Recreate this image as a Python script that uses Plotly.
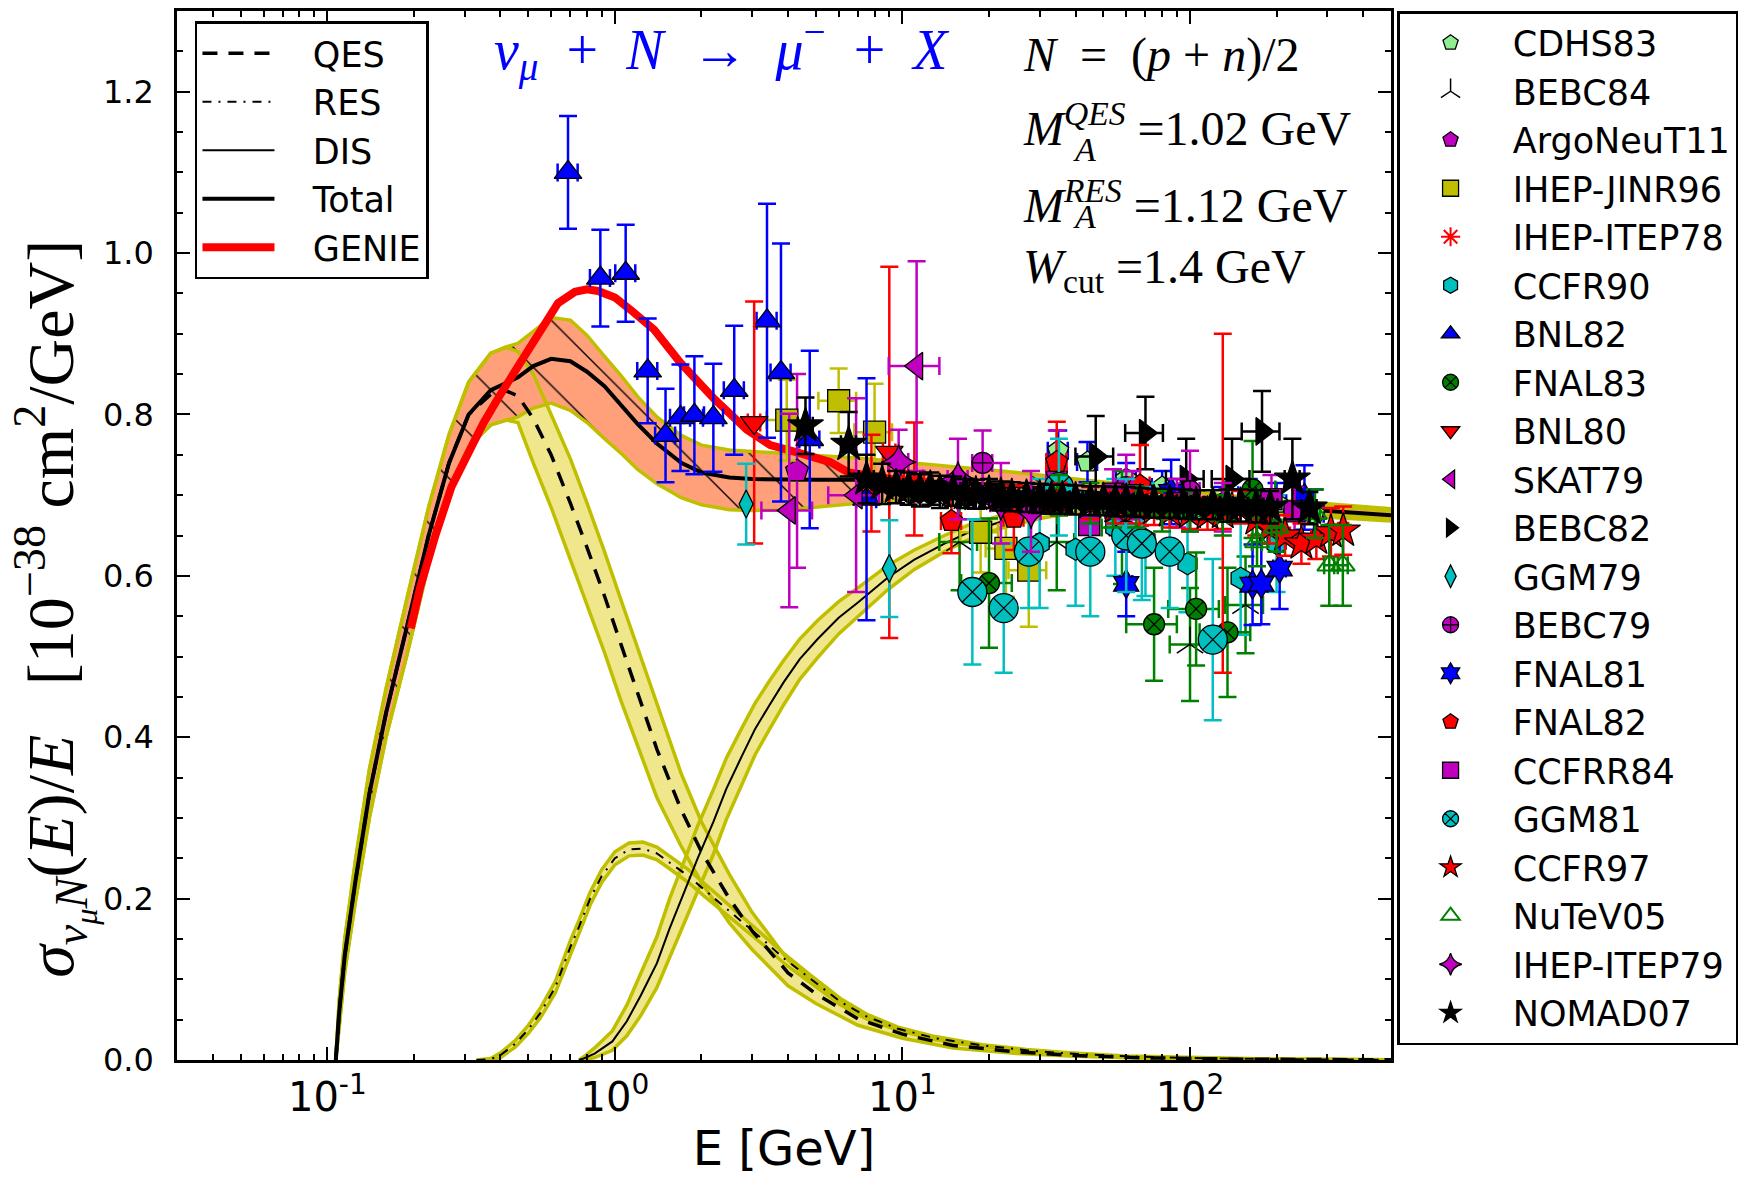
import math
import plotly.graph_objects as go

# ---------------- model curves ----------------
E_qes = [0.107, 0.11, 0.115, 0.125, 0.14, 0.16, 0.19, 0.225, 0.265, 0.31, 0.37, 0.42, 0.46, 0.52, 0.6,
         0.7, 0.8, 0.92, 1.05, 1.2, 1.4, 1.7, 2.0, 2.5, 3.0, 4.0, 5.0, 7.0, 10, 15, 25, 40, 70, 150, 500]
qes_c = [0, 0.06, 0.13, 0.22, 0.33, 0.43, 0.54, 0.65, 0.74, 0.80, 0.825, 0.829, 0.823, 0.795, 0.75,
         0.69, 0.635, 0.575, 0.515, 0.455, 0.385, 0.31, 0.258, 0.20, 0.16, 0.108, 0.082, 0.051, 0.032,
         0.018, 0.010, 0.0055, 0.0027, 0.0010, 0.0002]
qes_hi = [0, 0.075, 0.15, 0.245, 0.36, 0.46, 0.575, 0.685, 0.775, 0.84, 0.876, 0.883, 0.878, 0.85, 0.80,
          0.745, 0.69, 0.63, 0.57, 0.51, 0.44, 0.355, 0.295, 0.23, 0.183, 0.124, 0.094, 0.059, 0.037,
          0.021, 0.012, 0.0066, 0.0032, 0.0012, 0.0003]
qes_lo = [0, 0.045, 0.11, 0.195, 0.30, 0.40, 0.505, 0.615, 0.705, 0.76, 0.787, 0.793, 0.79, 0.74, 0.685,
          0.62, 0.565, 0.505, 0.445, 0.39, 0.325, 0.265, 0.22, 0.17, 0.137, 0.092, 0.070, 0.043, 0.027,
          0.015, 0.008, 0.0045, 0.0022, 0.0008, 0.0001]

E_tot = [0.107, 0.11, 0.115, 0.125, 0.14, 0.16, 0.19, 0.225, 0.265, 0.31, 0.37, 0.42, 0.46, 0.52, 0.6,
         0.7, 0.8, 0.92, 1.05, 1.2, 1.4, 1.7, 2.0, 2.5, 3.0, 4.0, 5.0, 7.0, 10, 15, 25, 40, 70, 150, 500]
tot_c = [0, 0.06, 0.13, 0.22, 0.33, 0.43, 0.54, 0.65, 0.74, 0.80, 0.83, 0.84, 0.846, 0.86, 0.869,
         0.866, 0.853, 0.835, 0.812, 0.788, 0.764, 0.74, 0.728, 0.722, 0.72, 0.719, 0.719, 0.719, 0.718,
         0.716, 0.711, 0.705, 0.698, 0.688, 0.675]
tot_hi = [0, 0.075, 0.15, 0.245, 0.36, 0.46, 0.575, 0.685, 0.775, 0.84, 0.876, 0.884, 0.888, 0.903, 0.92,
          0.917, 0.898, 0.872, 0.848, 0.822, 0.797, 0.774, 0.762, 0.756, 0.754, 0.751, 0.749, 0.746, 0.741,
          0.735, 0.728, 0.72, 0.711, 0.698, 0.683]
tot_lo = [0, 0.045, 0.11, 0.195, 0.30, 0.40, 0.505, 0.615, 0.705, 0.76, 0.787, 0.793, 0.797, 0.808, 0.814,
          0.805, 0.79, 0.77, 0.752, 0.732, 0.714, 0.697, 0.688, 0.682, 0.681, 0.682, 0.685, 0.69, 0.695,
          0.697, 0.696, 0.693, 0.687, 0.679, 0.668]

E_res = [0.33, 0.37, 0.40, 0.45, 0.5, 0.55, 0.62, 0.7, 0.75, 0.82, 0.9, 1.0, 1.12, 1.25, 1.4, 1.55, 1.8,
         2.03, 2.4, 2.8, 3.3, 3.9, 4.8, 6.1, 7.5, 9.6, 13, 19, 27, 38, 60, 100, 200, 500]
res_c = [0.0, 0.001, 0.006, 0.02, 0.038, 0.058, 0.09, 0.14, 0.165, 0.2, 0.228, 0.25, 0.261, 0.262, 0.256,
         0.245, 0.228, 0.212, 0.19, 0.17, 0.148, 0.125, 0.10, 0.072, 0.054, 0.039, 0.027, 0.018, 0.012,
         0.008, 0.0045, 0.0025, 0.001, 0.0003]
res_hi = [0.0, 0.002, 0.009, 0.024, 0.043, 0.064, 0.097, 0.148, 0.173, 0.208, 0.236, 0.258, 0.269, 0.27,
          0.264, 0.253, 0.236, 0.22, 0.197, 0.177, 0.154, 0.131, 0.105, 0.076, 0.057, 0.041, 0.029, 0.019,
          0.013, 0.009, 0.005, 0.003, 0.0012, 0.0004]
res_lo = [0.0, 0.0, 0.003, 0.016, 0.033, 0.052, 0.083, 0.132, 0.157, 0.192, 0.22, 0.242, 0.253, 0.254,
          0.248, 0.237, 0.22, 0.204, 0.183, 0.163, 0.142, 0.119, 0.095, 0.068, 0.051, 0.037, 0.025, 0.017,
          0.011, 0.007, 0.004, 0.002, 0.0008, 0.0002]

E_dis = [0.75, 0.78, 0.85, 0.98, 1.1, 1.23, 1.4, 1.55, 1.75, 1.94, 2.2, 2.44, 2.75, 3.07, 3.45, 3.86, 4.4,
         5.08, 6.0, 7.0, 8.9, 11, 14, 17, 22, 30, 45, 70, 100, 200, 500]
dis_c = [0.0, 0.002, 0.008, 0.023, 0.048, 0.08, 0.12, 0.163, 0.21, 0.25, 0.295, 0.336, 0.375, 0.41, 0.44,
         0.468, 0.497, 0.522, 0.548, 0.567, 0.598, 0.62, 0.64, 0.654, 0.667, 0.678, 0.688, 0.692, 0.692,
         0.686, 0.675]
dis_hi = [0.0, 0.004, 0.015, 0.036, 0.068, 0.108, 0.153, 0.20, 0.25, 0.29, 0.335, 0.374, 0.41, 0.442, 0.47,
          0.495, 0.522, 0.545, 0.568, 0.585, 0.613, 0.632, 0.65, 0.663, 0.675, 0.685, 0.694, 0.697, 0.697,
          0.691, 0.68]
dis_lo = [0.0, 0.0, 0.003, 0.012, 0.03, 0.055, 0.09, 0.127, 0.17, 0.21, 0.255, 0.298, 0.34, 0.378, 0.41,
          0.44, 0.472, 0.499, 0.528, 0.549, 0.583, 0.608, 0.63, 0.645, 0.659, 0.671, 0.682, 0.687, 0.687,
          0.681, 0.67]

E_genie = [0.195, 0.21, 0.238, 0.27, 0.31, 0.35, 0.40, 0.45, 0.50, 0.56, 0.634, 0.726, 0.80, 0.873, 1.0,
           1.13, 1.37, 1.69, 2.22, 2.88, 3.47, 4.3, 5.6, 6.5, 8.0, 10]
genie = [0.535, 0.585, 0.651, 0.71, 0.753, 0.79, 0.825, 0.855, 0.878, 0.91, 0.938, 0.952, 0.955, 0.953,
         0.945, 0.93, 0.905, 0.864, 0.819, 0.781, 0.762, 0.753, 0.741, 0.728, 0.722, 0.718]

# ---------------- experimental data (E [GeV], sigma/E, error) ----------------
CDHS83_E = [34.8, 44, 60, 80, 100, 130, 160, 200, 270]
CDHS83_v = [0.755, 0.741, 0.72, 0.71, 0.70, 0.69, 0.70, 0.69, 0.677]
CDHS83_d = [0.025, 0.025, 0.02, 0.02, 0.02, 0.02, 0.02, 0.025, 0.03]

BEBC84_E = [15.8, 34.4, 58, 100, 156]
BEBC84_v = [0.642, 0.642, 0.66, 0.515, 0.564]
BEBC84_d = [0.06, 0.06, 0.07, 0.07, 0.06]

ArgoNeuT11_E = [4.3]
ArgoNeuT11_v = [0.73]
ArgoNeuT11_d = [0.12]

IHEPJINR96_E = [3.96, 6.0, 8.0, 18.7, 22.9, 27.5]
IHEPJINR96_v = [0.793, 0.817, 0.778, 0.654, 0.634, 0.607]
IHEPJINR96_d = [0.05, 0.04, 0.06, 0.05, 0.06, 0.07]

IHEPITEP78_E = [7.8, 11.0]
IHEPITEP78_v = [0.715, 0.72]
IHEPITEP78_d = [0.06, 0.07]

CCFR90_E = [30, 40, 55, 70, 98, 150, 200]
CCFR90_v = [0.64, 0.633, 0.66, 0.645, 0.615, 0.597, 0.64]
CCFR90_d = [0.08, 0.07, 0.06, 0.07, 0.06, 0.07, 0.06]

BNL82_E = [0.687, 0.89, 1.09, 1.3, 1.5, 1.69, 1.89, 2.2, 2.6, 3.38, 3.78, 4.76, 7.5]
BNL82_v = [1.10, 0.969, 0.975, 0.854, 0.774, 0.796, 0.799, 0.796, 0.83, 0.916, 0.852, 0.769, 0.695]
BNL82_d = [0.07, 0.06, 0.06, 0.065, 0.058, 0.066, 0.073, 0.067, 0.08, 0.145, 0.16, 0.11, 0.15]

FNAL83_E = [20, 75, 105, 135, 165]
FNAL83_v = [0.591, 0.54, 0.559, 0.53, 0.707]
FNAL83_d = [0.08, 0.07, 0.07, 0.08, 0.06]

BNL80_E = [3.05, 9.0]
BNL80_v = [0.79, 0.753]
BNL80_d = [0.15, 0.23]

SKAT79_E = [4.04, 6.9, 11.2]
SKAT79_v = [0.681, 0.70, 0.86]
SKAT79_d = [0.12, 0.12, 0.13]

BEBC82_E = [47, 70, 97, 140, 178]
BEBC82_v = [0.748, 0.777, 0.72, 0.72, 0.779]
BEBC82_d = [0.05, 0.045, 0.05, 0.05, 0.05]

GGM79_E = [2.86, 9.0]
GGM79_v = [0.689, 0.609]
GGM79_d = [0.05, 0.06]

BEBC79_E = [19, 34.4, 60, 100]
BEBC79_v = [0.74, 0.73, 0.71, 0.705]
BEBC79_d = [0.04, 0.05, 0.04, 0.05]

FNAL81_E = [60, 86, 165, 177, 205, 250]
FNAL81_v = [0.59, 0.704, 0.589, 0.59, 0.609, 0.697]
FNAL81_d = [0.04, 0.04, 0.05, 0.05, 0.05, 0.04]

FNAL82_E = [14.8, 24.4, 34.4, 67, 130]
FNAL82_v = [0.668, 0.672, 0.741, 0.712, 0.69]
FNAL82_d = [0.04, 0.04, 0.05, 0.05, 0.21]

CCFRR84_E = [44.6, 54, 63, 90, 130, 192, 231]
CCFRR84_v = [0.663, 0.702, 0.70, 0.69, 0.685, 0.695, 0.68]
CCFRR84_d = [0.03, 0.03, 0.03, 0.03, 0.03, 0.03, 0.03]

GGM81_E = [17.5, 22.5, 27.5, 35, 45, 60, 68, 85, 120]
GGM81_v = [0.58, 0.56, 0.63, 0.71, 0.63, 0.65, 0.64, 0.63, 0.521]
GGM81_d = [0.09, 0.08, 0.07, 0.06, 0.08, 0.07, 0.07, 0.07, 0.10]

CCFR97_E = [35, 45, 55, 65, 75, 85, 100, 115, 130, 149, 170, 189, 214, 244, 275, 309, 341]
CCFR97_v = [0.695, 0.69, 0.685, 0.685, 0.683, 0.68, 0.678, 0.677, 0.678, 0.685, 0.67, 0.66, 0.65, 0.64,
            0.646, 0.654, 0.656]
CCFR97_d = [0.02, 0.02, 0.02, 0.02, 0.02, 0.02, 0.02, 0.02, 0.02, 0.02, 0.02, 0.02, 0.025, 0.025, 0.025,
            0.03, 0.03]

NuTeV05_E = [35, 45, 54, 65, 80, 100, 130, 171, 200, 272, 305, 340]
NuTeV05_v = [0.70, 0.69, 0.685, 0.685, 0.68, 0.68, 0.675, 0.642, 0.66, 0.677, 0.613, 0.613]
NuTeV05_d = [0.025, 0.025, 0.025, 0.025, 0.025, 0.025, 0.025, 0.03, 0.03, 0.03, 0.05, 0.05]

IHEPITEP79_E = [9.7, 15.6, 22, 28]
IHEPITEP79_v = [0.741, 0.72, 0.69, 0.68]
IHEPITEP79_d = [0.04, 0.05, 0.05, 0.05]

NOMAD07_E = [4.6, 6.5, 7.5, 8.5, 9.5, 10.5, 11.5, 12.5, 13.5, 15, 16.5, 18, 20, 22, 24, 27, 30, 33, 36, 40,
             45, 50, 55, 60, 67, 75, 85, 95, 105, 120, 135, 150, 170, 190, 227, 260]
NOMAD07_v = [0.786, 0.763, 0.72, 0.714, 0.710, 0.708, 0.706, 0.708, 0.704, 0.705, 0.702, 0.701, 0.702,
             0.699, 0.698, 0.697, 0.696, 0.695, 0.695, 0.694, 0.693, 0.693, 0.692, 0.692, 0.691, 0.690,
             0.690, 0.689, 0.688, 0.688, 0.687, 0.687, 0.686, 0.685, 0.72, 0.684]
NOMAD07_d = [0.035, 0.04, 0.03, 0.025, 0.02, 0.02, 0.02, 0.02, 0.02, 0.018, 0.018, 0.018, 0.018, 0.018,
             0.018, 0.018, 0.018, 0.018, 0.018, 0.018, 0.018, 0.018, 0.018, 0.018, 0.018, 0.018, 0.018,
             0.018, 0.018, 0.018, 0.02, 0.02, 0.02, 0.02, 0.05, 0.02]

# horizontal error (percent of E) per experiment
xerr_pct = {"CDHS83": 8, "BEBC84": 15, "ArgoNeuT11": 0, "IHEP-JINR96": 15, "IHEP-ITEP78": 8,
            "CCFR90": 0, "BNL82": 8, "FNAL83": 20, "BNL80": 5, "SKAT79": 20, "BEBC82": 15,
            "GGM79": 0, "BEBC79": 8, "FNAL81": 5, "FNAL82": 8, "CCFRR84": 5, "GGM81": 0,
            "CCFR97": 4, "NuTeV05": 4, "IHEP-ITEP79": 8, "NOMAD07": 6}

datasets = [
    ("CDHS83", CDHS83_E, CDHS83_v, CDHS83_d),
    ("BEBC84", BEBC84_E, BEBC84_v, BEBC84_d),
    ("ArgoNeuT11", ArgoNeuT11_E, ArgoNeuT11_v, ArgoNeuT11_d),
    ("IHEP-JINR96", IHEPJINR96_E, IHEPJINR96_v, IHEPJINR96_d),
    ("IHEP-ITEP78", IHEPITEP78_E, IHEPITEP78_v, IHEPITEP78_d),
    ("CCFR90", CCFR90_E, CCFR90_v, CCFR90_d),
    ("BNL82", BNL82_E, BNL82_v, BNL82_d),
    ("FNAL83", FNAL83_E, FNAL83_v, FNAL83_d),
    ("BNL80", BNL80_E, BNL80_v, BNL80_d),
    ("SKAT79", SKAT79_E, SKAT79_v, SKAT79_d),
    ("BEBC82", BEBC82_E, BEBC82_v, BEBC82_d),
    ("GGM79", GGM79_E, GGM79_v, GGM79_d),
    ("BEBC79", BEBC79_E, BEBC79_v, BEBC79_d),
    ("FNAL81", FNAL81_E, FNAL81_v, FNAL81_d),
    ("FNAL82", FNAL82_E, FNAL82_v, FNAL82_d),
    ("CCFRR84", CCFRR84_E, CCFRR84_v, CCFRR84_d),
    ("GGM81", GGM81_E, GGM81_v, GGM81_d),
    ("CCFR97", CCFR97_E, CCFR97_v, CCFR97_d),
    ("NuTeV05", NuTeV05_E, NuTeV05_v, NuTeV05_d),
    ("IHEP-ITEP79", IHEPITEP79_E, IHEPITEP79_v, IHEPITEP79_d),
    ("NOMAD07", NOMAD07_E, NOMAD07_v, NOMAD07_d),
]

# ---------------- styles ----------------
B, G, R, C, M, Y, K = "#0000FF", "#008000", "#FF0000", "#00BFBF", "#BF00BF", "#BFBF00", "#000000"
OLIVE, KHAKI, SALMON = "#BFBF00", "#F0E68C", "#FFA07A"
styles = {
    "CDHS83": dict(symbol="pentagon", fill="#90EE90", ecol=B, size=22),
    "BEBC84": dict(symbol="y-up", fill=K, ecol=G, size=22, line=K, lw=1.5),
    "ArgoNeuT11": dict(symbol="pentagon", fill=M, ecol=M, size=24),
    "IHEP-JINR96": dict(symbol="square", fill=Y, ecol=Y, size=22),
    "IHEP-ITEP78": dict(symbol="asterisk", fill=R, ecol=R, size=22, line=R, lw=2),
    "CCFR90": dict(symbol="hexagon", fill=C, ecol=C, size=22),
    "BNL82": dict(symbol="triangle-up", fill=B, ecol=B, size=24),
    "FNAL83": dict(symbol="circle-x", fill=G, ecol=G, size=21),
    "BNL80": dict(symbol="triangle-down", fill=R, ecol=R, size=24),
    "SKAT79": dict(symbol="triangle-left", fill=M, ecol=M, size=24),
    "BEBC82": dict(symbol="triangle-right", fill=K, ecol=K, size=24),
    "GGM79": dict(symbol="diamond-tall", fill=C, ecol=C, size=20),
    "BEBC79": dict(symbol="circle-cross", fill=M, ecol=M, size=21),
    "FNAL81": dict(symbol="hexagram", fill=B, ecol=B, size=22),
    "FNAL82": dict(symbol="pentagon", fill=R, ecol=R, size=23),
    "CCFRR84": dict(symbol="square", fill=M, ecol=M, size=21),
    "GGM81": dict(symbol="circle-x", fill=C, ecol=C, size=29),
    "CCFR97": dict(symbol="star", fill=R, ecol=R, size=26),
    "NuTeV05": dict(symbol="triangle-up-open", fill=G, ecol=G, size=21, line=G, lw=2),
    "IHEP-ITEP79": dict(symbol="star-diamond", fill=M, ecol=M, size=25),
    "NOMAD07": dict(symbol="star", fill=K, ecol=K, size=27),
}

fig = go.Figure()


def fill_band(E, lo, hi, color, pattern=None):
    fig.add_trace(go.Scatter(x=E, y=lo, mode="lines", line=dict(width=0, color=color),
                             showlegend=False, hoverinfo="skip"))
    kw = dict(fill="tonexty", fillcolor=color)
    if pattern is not None:
        kw["fillpattern"] = pattern
    fig.add_trace(go.Scatter(x=E, y=hi, mode="lines", line=dict(width=0, color=color),
                             showlegend=False, hoverinfo="skip", **kw))


def edges(E, lo, hi):
    for arr in (lo, hi):
        fig.add_trace(go.Scatter(x=E, y=arr, mode="lines", line=dict(width=3.5, color=OLIVE),
                                 showlegend=False, hoverinfo="skip"))


fill_band(E_qes, qes_lo, qes_hi, KHAKI)
fill_band(E_res, res_lo, res_hi, KHAKI)
fill_band(E_dis, dis_lo, dis_hi, KHAKI)
fill_band(E_tot, tot_lo, tot_hi, SALMON,
          pattern=dict(shape="\\", size=46, solidity=0.03, fgcolor="#000000", bgcolor=SALMON,
                       fillmode="replace"))
edges(E_qes, qes_lo, qes_hi)
edges(E_res, res_lo, res_hi)
edges(E_dis, dis_lo, dis_hi)
edges(E_tot, tot_lo, tot_hi)

SP = "\u00a0"
fig.add_trace(go.Scatter(x=E_qes, y=qes_c, mode="lines", name=SP * 3 + "QES", legend="legend2",
                         legendgroup="q", line=dict(color="black", width=3.5, dash="15px,11px")))
fig.add_trace(go.Scatter(x=E_res, y=res_c, mode="lines", name=SP * 3 + "RES", legend="legend2",
                         legendgroup="r", line=dict(color="black", width=2, dash="9px,7px,2px,7px")))
fig.add_trace(go.Scatter(x=E_dis, y=dis_c, mode="lines", name=SP * 3 + "DIS", legend="legend2",
                         legendgroup="d", line=dict(color="black", width=2)))
fig.add_trace(go.Scatter(x=E_tot, y=tot_c, mode="lines", name=SP * 3 + "Total", legend="legend2",
                         legendgroup="t", line=dict(color="black", width=4)))
fig.add_trace(go.Scatter(x=E_genie, y=genie, mode="lines", name=SP * 3 + "GENIE", legend="legend2",
                         legendgroup="g", line=dict(color="#FF0000", width=8)))

for name, E, v, d in datasets:
    st = styles[name]
    fig.add_trace(go.Scatter(
        x=E, y=v, mode="markers", name=SP + name, legend="legend", legendgroup=name,
        marker=dict(symbol=st["symbol"], size=st["size"], color=st["fill"],
                    line=dict(color=st.get("line", "black"), width=st.get("lw", 1.3))),
        error_y=dict(type="data", array=d, color=st["ecol"], thickness=2.5, width=9),
        error_x=dict(type="percent", value=xerr_pct[name], color=st["ecol"], thickness=2.5, width=9,
                     visible=xerr_pct[name] > 0),
    ))

minor_x = []
for dec in (0.01, 0.1, 1, 10, 100):
    for k in range(2, 10):
        val = k * dec
        if 0.03 <= val <= 500:
            minor_x.append(val)

fig.update_layout(
    width=1746, height=1177,
    margin=dict(l=177, r=350, t=8, b=117),
    paper_bgcolor="white", plot_bgcolor="white",
    font=dict(family="DejaVu Sans", color="black"),
    xaxis=dict(type="log", range=[math.log10(0.03), math.log10(500)],
               tickmode="array", tickvals=[0.1, 1, 10, 100],
               ticktext=["10<sup>-1</sup>", "10<sup>0</sup>", "10<sup>1</sup>", "10<sup>2</sup>"],
               ticks="inside", ticklen=13, tickwidth=2, tickcolor="black",
               minor=dict(tickmode="array", tickvals=minor_x, ticks="inside", ticklen=6, tickwidth=1.5,
                          tickcolor="black"),
               showline=True, linewidth=2.5, linecolor="black", mirror="allticks", showgrid=False,
               zeroline=False, tickfont=dict(size=40, family="DejaVu Sans"), ticklabelstandoff=0,
               title=dict(text="E [GeV]", font=dict(size=48, family="DejaVu Sans"), standoff=12)),
    yaxis=dict(range=[0, 1.3], tickmode="linear", tick0=0, dtick=0.2, tickformat=".1f",
               ticks="inside", ticklen=13, tickwidth=2, tickcolor="black",
               minor=dict(dtick=0.05, ticks="inside", ticklen=6, tickwidth=1.5, tickcolor="black"),
               showline=True, linewidth=2.5, linecolor="black", mirror="allticks", showgrid=False,
               zeroline=False, tickfont=dict(size=32, family="DejaVu Sans"), ticklabelstandoff=14),
    legend=dict(x=1.005, y=1.0, xanchor="left", yanchor="top", bgcolor="white", bordercolor="black",
                borderwidth=2.5, font=dict(size=35, family="DejaVu Sans"), tracegroupgap=7,
                itemwidth=92, traceorder="normal"),
    legend2=dict(x=0.0148, y=0.990, xanchor="left", yanchor="top", bgcolor="white",
                 bordercolor="black", borderwidth=2.5, font=dict(size=35, family="DejaVu Sans"),
                 tracegroupgap=6, itemwidth=72, traceorder="normal"),
    showlegend=True,
)

serif = "Liberation Serif"
annotations = [
    # y-axis label
    dict(x=-0.1017, y=0.4297, textangle=-90,
         text="<i>σ</i><sub><i>ν</i><sub><i>μ</i></sub><i>N</i></sub>(<i>E</i>)/<i>E</i>" + SP * 3
              + "[10<sup>−38</sup>" + SP + "cm<sup>2</sup>/GeV]",
         font=dict(size=66, family=serif), xanchor="center", yanchor="middle"),
    # reaction label
    dict(x=0.449, y=0.963,
         text="<i>ν</i><sub><i>μ</i></sub>" + SP * 2 + "+" + SP * 2 + "<i>N</i>" + SP * 2 + "→" + SP * 2
              + "<i>μ</i><sup>−</sup>" + SP * 2 + "+" + SP * 2 + "<i>X</i>",
         font=dict(size=56, family=serif, color="#0000FF"), xanchor="center", yanchor="middle"),
    dict(x=0.695, y=0.958, text="<i>N</i>" + SP * 2 + "=" + SP * 2 + "(<i>p</i> + <i>n</i>)/2",
         font=dict(size=48, family=serif), xanchor="left", yanchor="middle"),
    dict(x=0.695, y=0.891, text="<i>M</i><sup><i>QES</i></sup> =1.02 GeV",
         font=dict(size=48, family=serif), xanchor="left", yanchor="middle"),
    dict(x=0.736, y=0.868, text="<i>A</i>", font=dict(size=34, family=serif),
         xanchor="left", yanchor="middle"),
    dict(x=0.695, y=0.818, text="<i>M</i><sup><i>RES</i></sup> =1.12 GeV",
         font=dict(size=48, family=serif), xanchor="left", yanchor="middle"),
    dict(x=0.736, y=0.804, text="<i>A</i>", font=dict(size=34, family=serif),
         xanchor="left", yanchor="middle"),
    dict(x=0.695, y=0.753, text="<i>W</i><sub>cut</sub> =1.4 GeV",
         font=dict(size=48, family=serif), xanchor="left", yanchor="middle"),
]
for a in annotations:
    a.update(xref="paper", yref="paper", showarrow=False)
fig.update_layout(annotations=annotations)

fig.write_html("out.html", config={"displayModeBar": False},
               post_script="document.body.style.margin='0px';")
